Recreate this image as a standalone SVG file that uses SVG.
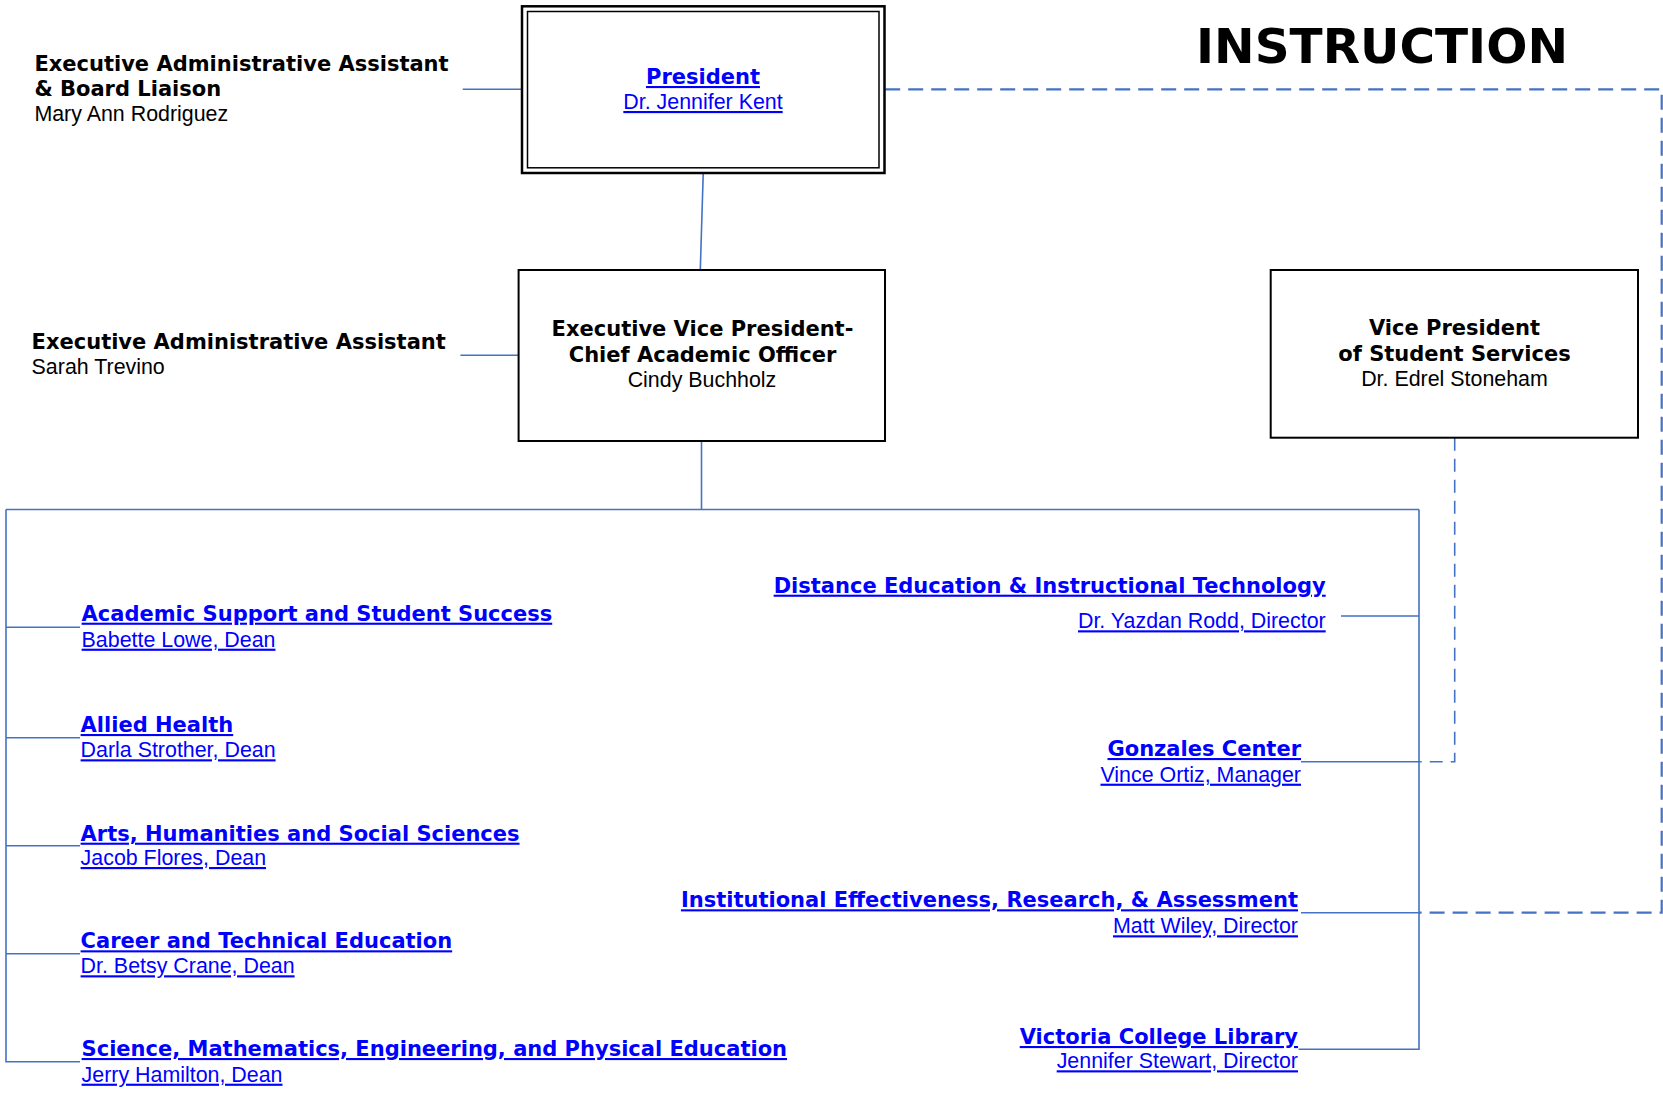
<svg xmlns="http://www.w3.org/2000/svg" width="1663" height="1093" viewBox="0 0 1663 1093">
<style>
.b{font-family:"DejaVu Sans","Liberation Sans",sans-serif;font-weight:bold;font-size:21px;fill:#000}
.r{font-family:"Liberation Sans",Arial,sans-serif;font-size:21.4px;fill:#000}
.lb{font-family:"DejaVu Sans","Liberation Sans",sans-serif;font-weight:bold;font-size:21px;fill:#0000FF;text-decoration:underline}
.lr{font-family:"Liberation Sans",Arial,sans-serif;font-size:21.4px;fill:#0000FF;text-decoration:underline}
.c{text-anchor:middle}
.e{text-anchor:end}
.box{fill:#fff;stroke:#000;stroke-width:2}
.ln{fill:none;stroke:#4472C4;stroke-width:1.6}
.dash{fill:none;stroke:#4472C4;stroke-width:2.2;stroke-dasharray:15 8}
.dash2{fill:none;stroke:#4472C4;stroke-width:1.6;stroke-dasharray:13 8}
</style>
<rect width="1663" height="1093" fill="#fff"/>
<g id="connectors">
<path class="ln" d="M462.7 89.3H522"/>
<path class="ln" d="M703.2 174L700.3 270"/>
<path class="ln" d="M460.4 355.3H518.6"/>
<path class="ln" d="M701.5 441V509.5"/>
<path class="ln" d="M6 509.5H1419M6 509.5V1061.7H80M1419 509.5V1049.3H1298.6"/>
<path class="ln" d="M6 627.3H80M6 737.7H80M6 845.7H80M6 953.7H80"/>
<path class="ln" d="M1341 616H1419M1301 761.7H1419M1301 912.7H1419"/>
<path class="dash" d="M885.2 89.3H1661.7V912.7H1419"/>
<path class="dash2" d="M1454.7 437.7V761.7H1419"/>
</g>
<g id="title"><text class="b" x="1196" y="63.3" style="font-size:48.5px" textLength="372" lengthAdjust="spacingAndGlyphs">INSTRUCTION</text></g>
<g id="assistant-president">
<text class="b" x="34.4" y="70.7">Executive Administrative Assistant</text>
<text class="b" x="34.4" y="95.7">&amp; Board Liaison</text>
<text class="r" x="34.4" y="120.7">Mary Ann Rodriguez</text>
</g>
<g id="president">
<rect x="522" y="6.3" width="362.5" height="166.7" fill="#fff" stroke="#000" stroke-width="2.5"/>
<rect x="527.5" y="11.5" width="351.5" height="156.3" fill="none" stroke="#000" stroke-width="1.5"/>
<text class="lb c" x="703" y="84">President</text>
<text class="lr c" x="703" y="109">Dr. Jennifer Kent</text>
</g>
<g id="assistant-evp">
<text class="b" x="31.6" y="348.7">Executive Administrative Assistant</text>
<text class="r" x="31.6" y="374">Sarah Trevino</text>
</g>
<g id="evp">
<rect class="box" x="518.6" y="270" width="366.4" height="171"/>
<text class="b c" x="702.5" y="336">Executive Vice President-</text>
<text class="b c" x="702.5" y="361.7">Chief Academic Officer</text>
<text class="r c" x="702" y="386.7">Cindy Buchholz</text>
</g>
<g id="vpss">
<rect class="box" x="1270.7" y="270" width="367.3" height="167.7"/>
<text class="b c" x="1454.5" y="335">Vice President</text>
<text class="b c" x="1454.5" y="360.7">of Student Services</text>
<text class="r c" x="1454.5" y="386">Dr. Edrel Stoneham</text>
</g>
<g id="academic-support">
<text class="lb" x="81.6" y="620.7">Academic Support and Student Success</text>
<text class="lr" x="81.6" y="646.7">Babette Lowe, Dean</text>
</g>
<g id="allied-health">
<text class="lb" x="80.6" y="732">Allied Health</text>
<text class="lr" x="80.6" y="757.3">Darla Strother, Dean</text>
</g>
<g id="arts">
<text class="lb" x="80.6" y="840.7">Arts, Humanities and Social Sciences</text>
<text class="lr" x="80.6" y="865">Jacob Flores, Dean</text>
</g>
<g id="career">
<text class="lb" x="80.6" y="948.3">Career and Technical Education</text>
<text class="lr" x="80.6" y="973.3">Dr. Betsy Crane, Dean</text>
</g>
<g id="science">
<text class="lb" x="81.6" y="1056">Science, Mathematics, Engineering, and Physical Education</text>
<text class="lr" x="81.6" y="1081.7">Jerry Hamilton, Dean</text>
</g>
<g id="distance-ed">
<text class="lb e" x="1325.7" y="592.7">Distance Education &amp; Instructional Technology</text>
<text class="lr e" x="1325.7" y="628.3">Dr. Yazdan Rodd, Director</text>
</g>
<g id="gonzales">
<text class="lb e" x="1301" y="756">Gonzales Center</text>
<text class="lr e" x="1301" y="781.7">Vince Ortiz, Manager</text>
</g>
<g id="institutional-effectiveness">
<text class="lb e" x="1298" y="907.3">Institutional Effectiveness, Research, &amp; Assessment</text>
<text class="lr e" x="1298" y="933.3">Matt Wiley, Director</text>
</g>
<g id="library">
<text class="lb e" x="1298" y="1044">Victoria College Library</text>
<text class="lr e" x="1298" y="1068.3">Jennifer Stewart, Director</text>
</g>
</svg>
